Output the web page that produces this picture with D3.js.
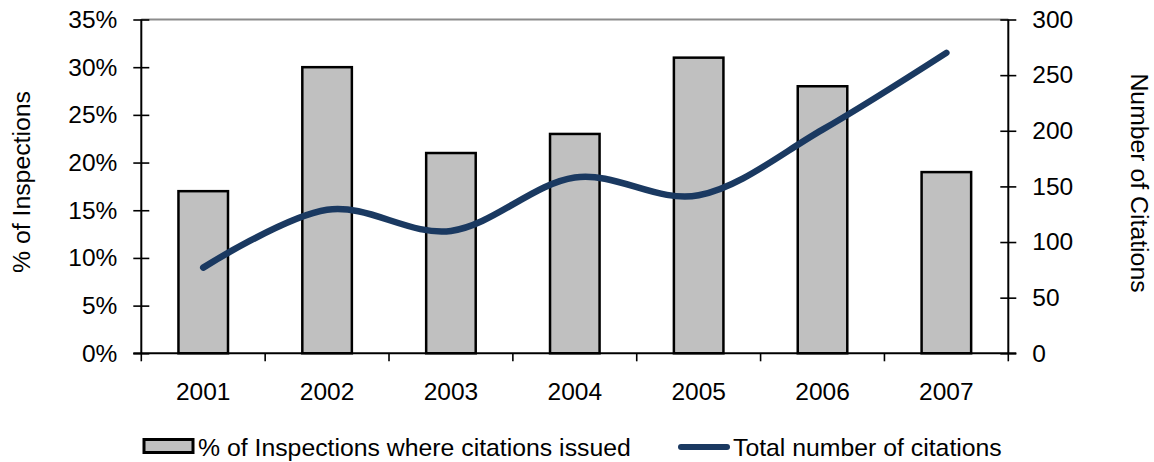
<!DOCTYPE html>
<html>
<head>
<meta charset="utf-8">
<script src="https://cdn.jsdelivr.net/npm/d3@7"></script>
<style>
  html, body { margin: 0; padding: 0; background: #fff; }
  svg { display: block; font-family: "Liberation Sans", Arial, sans-serif; }
</style>
</head>
<body>
<svg id="chart" width="1154" height="462"></svg>
<script>
// Inspection results by year
const years = ["2001", "2002", "2003", "2004", "2005", "2006", "2007"];
const pctInspectionsCited = [0.17, 0.30, 0.21, 0.23, 0.31, 0.28, 0.19];
const totalCitations = [77, 129, 110, 158, 142, 201, 270];
const leftTicks = [0, 0.05, 0.10, 0.15, 0.20, 0.25, 0.30, 0.35];
const rightTicks = [0, 50, 100, 150, 200, 250, 300];
const seriesNames = ["% of Inspections where citations issued", "Total number of citations"];

const svg = d3.select("#chart");
const plotLeft = 141.3, plotRight = 1008.3, plotTop = 19.5, plotBottom = 353.3;
const tickFont = 24.5, legendFont = 24.8, titleFont = 24.8;

const x = d3.scaleBand().domain(years).range([plotLeft, plotRight])
  .paddingInner(0.6).paddingOuter(0.3);
const yL = d3.scaleLinear().domain([0, 0.35]).range([plotBottom, plotTop]);
const yR = d3.scaleLinear().domain([0, 300]).range([plotBottom, plotTop]);

// top border of plot area
svg.append("line")
  .attr("x1", plotLeft).attr("x2", plotRight).attr("y1", plotTop).attr("y2", plotTop)
  .attr("stroke", "#8c8c8c").attr("stroke-width", 2);

// bars
svg.append("g").selectAll("rect").data(years).join("rect")
  .attr("x", d => x(d))
  .attr("width", x.bandwidth())
  .attr("y", (d, i) => yL(pctInspectionsCited[i]))
  .attr("height", (d, i) => plotBottom - yL(pctInspectionsCited[i]))
  .attr("fill", "#c0c0c0")
  .attr("stroke", "#000")
  .attr("stroke-width", 2.5);

// left axis
const gL = svg.append("g").attr("transform", `translate(${plotLeft},0)`)
  .call(d3.axisLeft(yL).tickValues(leftTicks).tickFormat(d3.format(".0%"))
    .tickSize(8).tickPadding(16));
gL.select(".domain").attr("stroke", "#000").attr("stroke-width", 2).attr("d", `M0,${plotTop}V${plotBottom}`);
gL.selectAll(".tick line").attr("x1", 8).attr("x2", -8).attr("stroke", "#000").attr("stroke-width", 1.6);
gL.selectAll(".tick text").attr("font-size", tickFont).attr("fill", "#000")
  .attr("font-family", "Liberation Sans, Arial, sans-serif");

// right axis
const gR = svg.append("g").attr("transform", `translate(${plotRight},0)`)
  .call(d3.axisRight(yR).tickValues(rightTicks).tickSize(8).tickPadding(16));
gR.select(".domain").attr("stroke", "#000").attr("stroke-width", 2).attr("d", `M0,${plotTop}V${plotBottom}`);
gR.selectAll(".tick line").attr("x1", -8).attr("x2", 8).attr("stroke", "#000").attr("stroke-width", 1.6);
gR.selectAll(".tick text").attr("font-size", tickFont).attr("fill", "#000")
  .attr("font-family", "Liberation Sans, Arial, sans-serif");

// bottom axis with ticks at category boundaries
svg.append("line")
  .attr("x1", plotLeft - 8).attr("x2", plotRight + 8).attr("y1", plotBottom).attr("y2", plotBottom)
  .attr("stroke", "#000").attr("stroke-width", 2);
const boundaries = years.map(d => x(d) - x.step() * x.paddingOuter()).concat([plotRight]);
svg.append("g").selectAll("line").data(boundaries).join("line")
  .attr("x1", d => d).attr("x2", d => d)
  .attr("y1", plotBottom).attr("y2", plotBottom + 8)
  .attr("stroke", "#000").attr("stroke-width", 1.6);
svg.append("g").selectAll("text").data(years).join("text")
  .attr("x", d => x(d) + x.bandwidth() / 2)
  .attr("y", 399.5)
  .attr("text-anchor", "middle")
  .attr("font-size", tickFont)
  .text(d => d);

// smoothed citations line
const line = d3.line()
  .x((d, i) => x(years[i]) + x.bandwidth() / 2)
  .y(d => yR(d))
  .curve(d3.curveCatmullRom.alpha(0));
svg.append("path")
  .datum(totalCitations)
  .attr("d", line)
  .attr("fill", "none")
  .attr("stroke", "#1a3961")
  .attr("stroke-width", 6.5)
  .attr("stroke-linecap", "round")
  .attr("stroke-linejoin", "round");

// axis titles
svg.append("text")
  .attr("transform", `translate(30,182) rotate(-90)`)
  .attr("text-anchor", "middle")
  .attr("font-size", titleFont)
  .text("% of Inspections");
svg.append("text")
  .attr("transform", `translate(1131,183) rotate(90)`)
  .attr("text-anchor", "middle")
  .attr("font-size", titleFont)
  .text("Number of Citations");

// legend
const legend = svg.append("g");
legend.append("rect")
  .attr("x", 144).attr("y", 439.5).attr("width", 49).attr("height", 13)
  .attr("fill", "#c0c0c0").attr("stroke", "#000").attr("stroke-width", 3);
legend.append("text")
  .attr("x", 198).attr("y", 455.5).attr("font-size", legendFont)
  .text(seriesNames[0]);
legend.append("line")
  .attr("x1", 681).attr("x2", 727).attr("y1", 447).attr("y2", 447)
  .attr("stroke", "#1a3961").attr("stroke-width", 6).attr("stroke-linecap", "round");
legend.append("text")
  .attr("x", 733).attr("y", 455.5).attr("font-size", legendFont)
  .text(seriesNames[1]);
</script>
</body>
</html>
